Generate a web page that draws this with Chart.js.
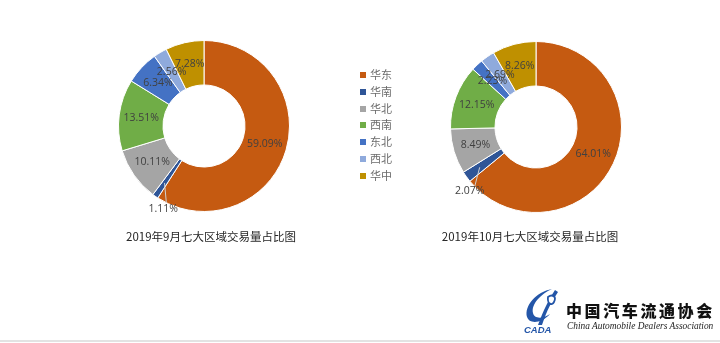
<!DOCTYPE html>
<html lang="zh">
<head>
    <meta charset="UTF-8">
    <title>七大区域交易量占比图</title>
    <style>
        body { margin: 0; background: #fff; }
        #page { position: relative; width: 720px; height: 343px; overflow: hidden; background: #fff; }
        .chart-box { position: absolute; top: 0; width: 360px; height: 343px; }
        .title { position: absolute; top: 228px; font: 11.5px "Noto Sans CJK SC", sans-serif; color: #262626; white-space: nowrap; transform: translateX(-50%); }
        #legend { position: absolute; left: 360px; top: 66px; font: 11px "Noto Sans CJK SC", sans-serif; color: #6b6b6b; }
        #legend div { height: 16.8px; line-height: 16.8px; }
        #legend span { display: inline-block; width: 6px; height: 6px; margin-right: 4px; vertical-align: 1px; }
        #logo-cn { position: absolute; left: 566px; top: 298px; font: 900 16px "Noto Sans CJK SC", sans-serif; letter-spacing: 2.6px; color: #111; }
        #logo-en { position: absolute; left: 567px; top: 321px; font: italic 9.4px "Liberation Serif", serif; color: #222; white-space: nowrap; }
        #bottom-line { position: absolute; left: 0; top: 340px; width: 720px; height: 2px; background: #e3e3e3; }
    </style>
</head>
<body>
<div id="page">
    <div class="chart-box" style="left:0"><canvas id="sep"></canvas></div>
    <div class="chart-box" style="left:360px"><canvas id="oct"></canvas></div>
    <div class="title" style="left:211px">2019年9月七大区域交易量占比图</div>
    <div class="title" style="left:530px">2019年10月七大区域交易量占比图</div>
    <div id="legend"></div>
    <svg style="position:absolute;left:522px;top:287px" width="40" height="50" viewBox="0 0 40 50">
        <path d="M30 2 C14 5 2 19 5 30 C7 37 19 37 28 27 C21 32 12 32 11 26 C9 17 19 7 30 2 Z" fill="#2456a8"/>
        <path d="M33 3 C27 12 22 22 16 38 L20 38 C25 23 30 14 36 5 Z" fill="#2456a8"/>
        <path d="M26 10 C30 7 35 9 32 15 C30 19 25 17 26 10 Z" fill="#fff" stroke="#2456a8" stroke-width="1.8"/>
        <text x="2" y="46" font-family="Liberation Sans" font-weight="bold" font-style="italic" font-size="9.5" fill="#2456a8">CADA</text>
    </svg>
    <div id="logo-cn">中国汽车流通协会</div>
    <div id="logo-en">China Automobile Dealers Association</div>
    <div id="bottom-line"></div>
</div>
<script src="https://cdn.jsdelivr.net/npm/chart.js@4.4.0/dist/chart.umd.min.js"></script>
<script>
    // regions and colours
    const regions = ['华东', '华南', '华北', '西南', '东北', '西北', '华中']
    const colors = ['#c55a11', '#2f5597', '#a5a5a5', '#70ad47', '#4472c4', '#8faadc', '#bf9000']

    // share of transactions, %
    const sepValues = [59.09, 1.11, 10.11, 13.51, 6.34, 2.56, 7.28]
    const octValues = [64.01, 2.07, 8.49, 12.15, 2.23, 2.69, 8.26]

    // slices whose label sits outside the ring
    const outsideLabels = [1]

    const legendBox = document.getElementById('legend')
    regions.forEach((name, i) => {
        const row = document.createElement('div')
        row.innerHTML = '<span style="background:' + colors[i] + '"></span>' + name
        legendBox.appendChild(row)
    })

    const sliceLabels = {
        id: 'sliceLabels',
        afterDatasetsDraw(chart) {
            const ctx = chart.ctx
            const meta = chart.getDatasetMeta(0)
            const values = chart.data.datasets[0].data
            ctx.save()
            ctx.font = '10.5px "Open Sans", sans-serif'
            ctx.textAlign = 'center'
            ctx.textBaseline = 'middle'
            meta.data.forEach((arc, i) => {
                const p = arc.getProps(['x', 'y', 'startAngle', 'endAngle', 'innerRadius', 'outerRadius'], true)
                const mid = (p.startAngle + p.endAngle) / 2
                const text = values[i].toFixed(2) + '%'
                if (outsideLabels.includes(i)) {
                    const a2 = mid - 0.15
                    const r1 = (p.innerRadius + p.outerRadius) / 2 + 6
                    ctx.strokeStyle = '#d0d0d0'
                    ctx.lineWidth = 1
                    ctx.beginPath()
                    ctx.moveTo(p.x + Math.cos(mid) * r1, p.y + Math.sin(mid) * r1)
                    ctx.lineTo(p.x + Math.cos(a2) * p.outerRadius, p.y + Math.sin(a2) * p.outerRadius)
                    ctx.stroke()
                    ctx.fillStyle = '#404040'
                    const r2 = p.outerRadius + 7
                    ctx.fillText(text, p.x + Math.cos(a2) * r2, p.y + Math.sin(a2) * r2)
                } else {
                    const r = (p.innerRadius + p.outerRadius) / 2
                    ctx.fillStyle = '#404040'
                    ctx.fillText(text, p.x + Math.cos(mid) * r, p.y + Math.sin(mid) * r)
                }
            })
            ctx.restore()
        }
    }

    const makeDonut = (id, values, padding) => new Chart(document.getElementById(id), {
        type: 'doughnut',
        data: {
            labels: regions,
            datasets: [{
                data: values,
                backgroundColor: colors,
                borderColor: '#ffffff',
                borderWidth: 1
            }]
        },
        options: {
            responsive: true,
            maintainAspectRatio: false,
            animation: false,
            cutout: '48%',
            layout: { padding: padding },
            plugins: {
                legend: { display: false },
                tooltip: { enabled: false }
            }
        },
        plugins: [sliceLabels]
    })

    const sepChart = makeDonut('sep', sepValues, { left: 118, right: 70, top: 40, bottom: 131 })
    const octChart = makeDonut('oct', octValues, { left: 90, right: 98, top: 41, bottom: 130 })
</script>
</body>
</html>
